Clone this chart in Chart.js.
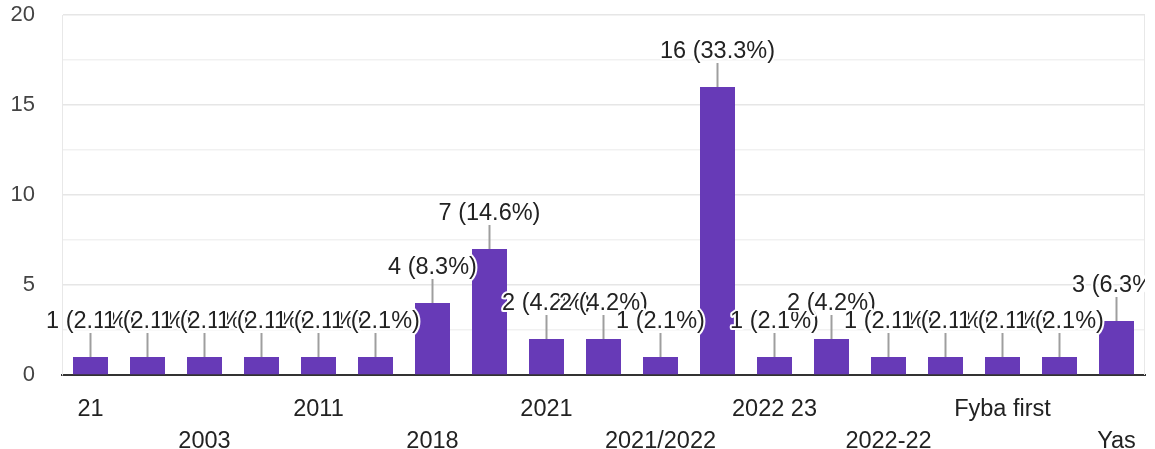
<!DOCTYPE html>
<html>
<head>
<meta charset="utf-8">
<script src="https://cdn.jsdelivr.net/npm/chart.js@4.4.1/dist/chart.umd.min.js"></script>
<style>
  html, body { margin: 0; padding: 0; background: #fff; }
  #wrap { width: 1155px; height: 449px; }
</style>
</head>
<body>
<div id="wrap"><canvas id="chart"></canvas></div>
<script>
const categories = ['21', '2002', '2003', '2008', '2011', '2015', '2018', '2020', '2021', '2021 22',
  '2021/2022', '2022', '2022 23', '2022-2023', '2022-22', 'Fifa', 'Fyba first', 'Good', 'Yas'];
const counts = [1, 1, 1, 1, 1, 1, 4, 7, 2, 2, 1, 16, 1, 2, 1, 1, 1, 1, 3];
const percentLabels = ['2.1%', '2.1%', '2.1%', '2.1%', '2.1%', '2.1%', '8.3%', '14.6%', '4.2%', '4.2%',
  '2.1%', '33.3%', '2.1%', '4.2%', '2.1%', '2.1%', '2.1%', '2.1%', '6.3%'];
const yTicks = [0, 5, 10, 15, 20];

const FONT = '"Liberation Sans", Arial, sans-serif';

// leader line + count (percent) above every bar, white halo, drawn left to right
const barLabels = {
  id: 'barLabels',
  beforeDatasetsDraw(chart) {
    const { ctx, chartArea: a } = chart;
    ctx.save();
    ctx.strokeStyle = '#e8e8e8';
    ctx.lineWidth = 1;
    ctx.beginPath();
    ctx.moveTo(a.right - 0.5, a.top);
    ctx.lineTo(a.right - 0.5, a.bottom);
    ctx.stroke();
    ctx.restore();
  },
  afterDatasetsDraw(chart) {
    const { ctx, chartArea: a } = chart;
    const bars = chart.getDatasetMeta(0).data;
    ctx.save();
    ctx.beginPath();
    ctx.rect(0, 0, a.right, a.bottom);
    ctx.clip();
    ctx.font = '23.5px ' + FONT;
    ctx.textAlign = 'center';
    ctx.textBaseline = 'middle';
    ctx.lineJoin = 'round';
    bars.forEach((bar, i) => {
      ctx.strokeStyle = '#9e9e9e';
      ctx.lineWidth = 2;
      ctx.beginPath();
      ctx.moveTo(bar.x, bar.y);
      ctx.lineTo(bar.x, bar.y - 24);
      ctx.stroke();
      const txt = counts[i] + ' (' + percentLabels[i] + ')';
      ctx.strokeStyle = '#fff';
      ctx.lineWidth = 4;
      ctx.strokeText(txt, bar.x, bar.y - 35);
      ctx.fillStyle = '#222';
      ctx.fillText(txt, bar.x, bar.y - 35);
    });
    ctx.restore();
  }
};

new Chart(document.getElementById('chart'), {
  type: 'bar',
  data: {
    labels: categories,
    datasets: [{
      data: counts,
      backgroundColor: '#673ab7',
      barPercentage: 0.614,
      categoryPercentage: 1
    }]
  },
  options: {
    responsive: true,
    maintainAspectRatio: false,
    animation: false,
    layout: { padding: { top: 15, right: 10, left: 0, bottom: 0 } },
    plugins: { legend: { display: false }, tooltip: { enabled: false } },
    scales: {
      x: {
        grid: { display: false },
        border: { color: '#333', width: 2 },
        afterFit(scale) {
          scale.height = 74;
          scale.paddingTop = 0;
          scale.paddingBottom = 0;
        },
        ticks: {
          autoSkip: false,
          maxRotation: 0,
          minRotation: 0,
          padding: 10,
          color: '#222',
          font: { family: FONT, size: 23.5, lineHeight: 1.38 },
          callback(value, i) {
            if (i % 2 === 1) return '';
            return (i / 2) % 2 === 0 ? categories[i] : ['', categories[i]];
          }
        }
      },
      y: {
        min: yTicks[0],
        max: yTicks[yTicks.length - 1],
        afterFit(scale) {
          scale.width = 62;
          scale.paddingTop = 0;
          scale.paddingBottom = 0;
        },
        border: { color: '#e8e8e8', width: 1 },
        grid: {
          drawTicks: false,
          color(c) {
            if (c.tick.value === 0) return '#333';
            return c.tick.value % 5 === 0 ? '#e6e6e6' : '#f1f1f1';
          },
          lineWidth: 1.5
        },
        ticks: {
          stepSize: 2.5,
          padding: 27,
          color: '#444',
          font: { family: FONT, size: 22 },
          callback(value) { return yTicks.includes(value) ? value : ''; }
        }
      }
    }
  },
  plugins: [barLabels]
});
</script>
</body>
</html>
